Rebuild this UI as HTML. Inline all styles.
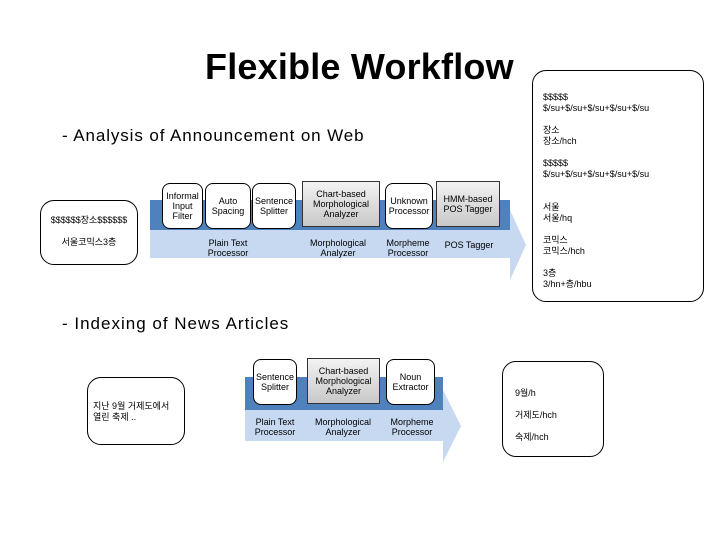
<!DOCTYPE html>
<html><head><meta charset="utf-8"><style>
body{margin:0;width:720px;height:540px;background:#fff;position:relative;overflow:hidden;font-family:"Liberation Sans","Noto Sans CJK KR",sans-serif;color:#000}
.a{position:absolute}
.t{font-size:9px;line-height:10px;text-align:center}
.box{position:absolute;background:#fff;border:1.3px solid #000;border-radius:8px;display:flex;align-items:center;justify-content:center;text-align:center;font-size:9px;line-height:10px;box-sizing:border-box}
.g{background:linear-gradient(#f2f2f2,#c8c8c8);border-radius:0;border:1.3px solid #333}
.rb{position:absolute;border:1.3px solid #000;border-radius:14px;box-sizing:border-box;font-size:9px;line-height:11px}
</style></head><body>
<div class="a" style="left:205px;top:46px;font-size:36px;font-weight:bold;letter-spacing:0.2px">Flexible Workflow</div>
<div class="a" style="left:62px;top:126px;font-size:17px;letter-spacing:0.9px">- Analysis of Announcement on Web</div>
<div class="a" style="left:62px;top:314px;font-size:17px;letter-spacing:1px">- Indexing of News Articles</div>

<svg class="a" style="left:0;top:0" width="720" height="540">
<polygon points="150,200 510,200 510,230 150,230" fill="#4f81bd"/>
<polygon points="150,230 510,230 510,210 526,245 510,280 510,258 150,258" fill="#c6d9f1"/>
<polygon points="245,377 443,377 443,410 245,410" fill="#4f81bd"/>
<polygon points="245,410 443,410 443,390 461,426 443,462 443,441 245,441" fill="#c6d9f1"/>
</svg>

<div class="box" style="left:162px;top:183px;width:41px;height:46px">Informal<br>Input<br>Filter</div>
<div class="box" style="left:205px;top:183px;width:46px;height:46px">Auto<br>Spacing</div>
<div class="box" style="left:252px;top:183px;width:44px;height:46px">Sentence<br>Splitter</div>
<div class="box g" style="left:302px;top:181px;width:78px;height:46px">Chart-based<br>Morphological<br>Analyzer</div>
<div class="box" style="left:385px;top:183px;width:48px;height:46px">Unknown<br>Processor</div>
<div class="box g" style="left:436px;top:181px;width:64px;height:46px">HMM-based<br>POS Tagger</div>
<div class="a t" style="left:200px;top:238px;width:56px">Plain Text<br>Processor</div>
<div class="a t" style="left:300px;top:238px;width:76px">Morphological<br>Analyzer</div>
<div class="a t" style="left:382px;top:238px;width:52px">Morpheme<br>Processor</div>
<div class="a t" style="left:438px;top:240px;width:62px">POS Tagger</div>

<div class="box" style="left:253px;top:359px;width:44px;height:46px">Sentence<br>Splitter</div>
<div class="box g" style="left:307px;top:358px;width:73px;height:46px">Chart-based<br>Morphological<br>Analyzer</div>
<div class="box" style="left:386px;top:359px;width:49px;height:46px">Noun<br>Extractor</div>
<div class="a t" style="left:248px;top:417px;width:54px">Plain Text<br>Processor</div>
<div class="a t" style="left:305px;top:417px;width:76px">Morphological<br>Analyzer</div>
<div class="a t" style="left:384px;top:417px;width:56px">Morpheme<br>Processor</div>

<div class="rb" style="left:40px;top:200px;width:98px;height:65px;font-size:9px;padding:14px 0 0 0;text-align:center">$$$$$$장소$$$$$$<br><br>서울코믹스3층</div>
<div class="rb" style="left:87px;top:377px;width:98px;height:68px;padding:23px 0 0 5px">지난 9월 거제도에서<br>열린 축제 ..</div>
<div class="rb" style="left:502px;top:361px;width:102px;height:96px;padding:20px 0 0 12px;line-height:22px">9월/h<br>거제도/hch<br>숙제/hch</div>
<div class="rb" style="left:532px;top:70px;width:172px;height:232px;padding:21px 0 0 10px;line-height:11px">$$$$$<br>$/su+$/su+$/su+$/su+$/su<br><br>장소<br>장소/hch<br><br>$$$$$<br>$/su+$/su+$/su+$/su+$/su<br><br><br>서울<br>서울/hq<br><br>코믹스<br>코믹스/hch<br><br>3층<br>3/hn+층/hbu</div>
</body></html>
